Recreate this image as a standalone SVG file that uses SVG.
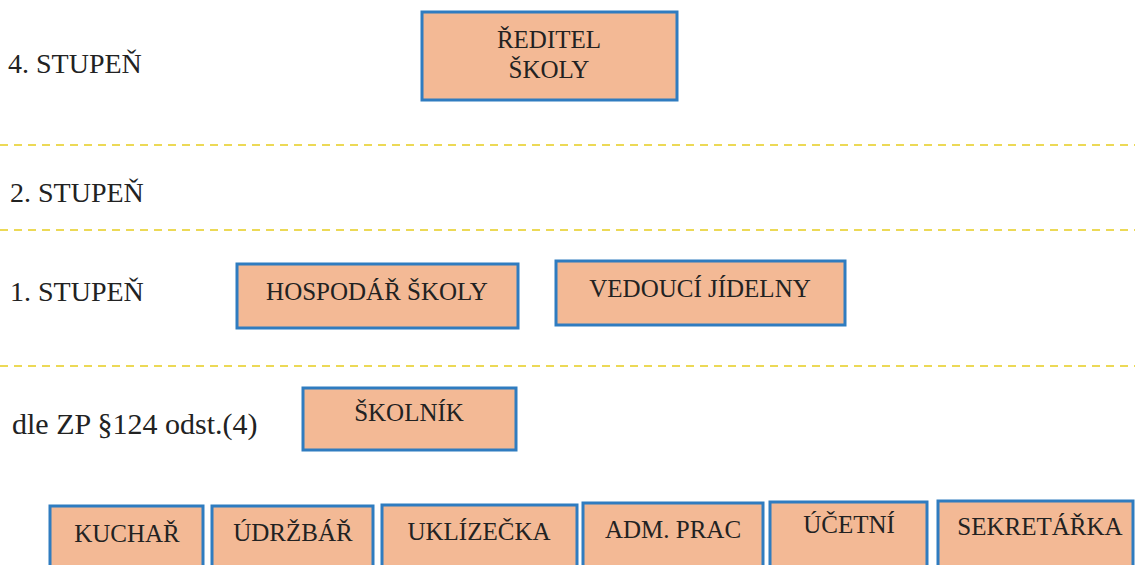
<svg xmlns="http://www.w3.org/2000/svg" width="1135" height="565" viewBox="0 0 1135 565">
<style>
.box{fill:#f3b995;stroke:#2f7cc0;stroke-width:3}
.t{font-family:'Liberation Serif','DejaVu Serif',serif;font-size:25px;fill:#222;text-anchor:middle}
.lbl{font-family:'Liberation Serif','DejaVu Serif',serif;font-size:28px;fill:#222}
.dash{stroke:#ecd956;stroke-width:2;stroke-dasharray:8 6;fill:none}
</style>
<rect width="1135" height="565" fill="#fff"/>
<g id="separators">
<line class="dash" x1="0" y1="145" x2="1135" y2="145"/>
<line class="dash" x1="0" y1="230" x2="1135" y2="230"/>
<line class="dash" x1="0" y1="366" x2="1135" y2="366"/>
</g>
<g id="labels">
<text class="lbl" x="8" y="73">4. STUPEŇ</text>
<text class="lbl" x="10" y="202">2. STUPEŇ</text>
<text class="lbl" x="10" y="301">1. STUPEŇ</text>
<text class="lbl" x="12" y="434" style="font-size:30px">dle ZP §124 odst.(4)</text>
</g>
<g id="reditel"><rect class="box" x="422" y="12" width="255" height="88"/><text class="t" x="549" y="48">ŘEDITEL</text><text class="t" x="549" y="78">ŠKOLY</text></g>
<g id="hospodar"><rect class="box" x="237" y="264" width="281" height="64"/><text class="t" x="377" y="300">HOSPODÁŘ ŠKOLY</text></g>
<g id="vedouci"><rect class="box" x="556" y="261" width="289" height="64"/><text class="t" x="700" y="297">VEDOUCÍ JÍDELNY</text></g>
<g id="skolnik"><rect class="box" x="303" y="388" width="213" height="62"/><text class="t" x="409" y="421">ŠKOLNÍK</text></g>
<g id="kuchar"><rect class="box" x="50" y="506" width="153" height="70"/><text class="t" x="127" y="542">KUCHAŘ</text></g>
<g id="udrzbar"><rect class="box" x="212" y="506" width="161" height="70"/><text class="t" x="293" y="541">ÚDRŽBÁŘ</text></g>
<g id="uklizecka"><rect class="box" x="382" y="505" width="195" height="70"/><text class="t" x="479" y="540">UKLÍZEČKA</text></g>
<g id="adm"><rect class="box" x="583" y="503" width="180" height="70"/><text class="t" x="673" y="538">ADM. PRAC</text></g>
<g id="ucetni"><rect class="box" x="770" y="502" width="157" height="70"/><text class="t" x="849" y="533">ÚČETNÍ</text></g>
<g id="sekretarka"><rect class="box" x="938" y="501" width="195" height="70"/><text class="t" x="1040" y="535">SEKRETÁŘKA</text></g>
</svg>
